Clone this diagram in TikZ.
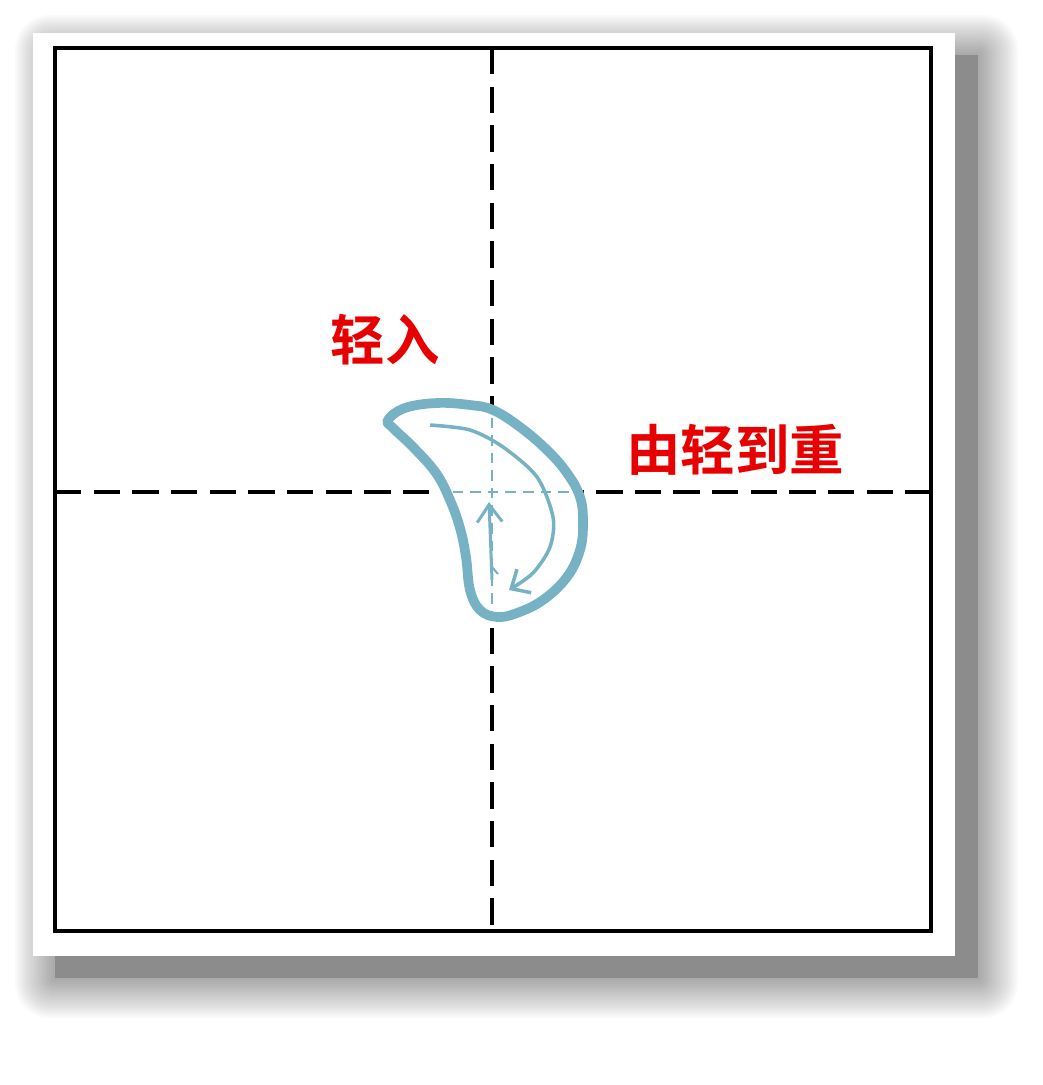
\documentclass[tikz,border=0pt]{standalone}
\usepackage{fontspec}
\usepackage{xcolor}
\usepackage{tikz}
\usetikzlibrary{arrows.meta}
\newfontfamily\cjk{Noto Sans CJK SC}[BoldFont={Noto Sans CJK SC Bold}]
\definecolor{brushteal}{RGB}{118,178,196}
\definecolor{shadowgray}{RGB}{140,140,140}
\definecolor{wordred}{RGB}{232,0,0}

\begin{document}
\begin{tikzpicture}[x=0.02cm,y=-0.02cm,
    guide/.style={line width=2pt,dash pattern=on 15pt off 7pt},
    fineguide/.style={brushteal,line width=0.8pt,dash pattern=on 6pt off 4pt},
    redword/.style={text=wordred,font=\cjk\bfseries\fontsize{31}{31}\selectfont}]
        \useasboundingbox (0,0) rectangle (1042,1085);
        \foreach \i in {1,...,20}
            \fill[black,opacity=0.018,rounded corners=\i pt] (55-2*\i,55-2*\i) rectangle (978+2*\i,978+2*\i);
        \fill[shadowgray] (55,55) rectangle (978,978);
        \fill[white] (33,33) rectangle (955,956);
        \draw[line width=2pt] (55,48) rectangle (931,931);
        \draw[guide] (55,492)--(931,492);
        \draw[guide] (492,48)--(492,931);

        \fill[white] plot[smooth cycle,tension=0.65] coordinates {(388,420) (405,408) (437,403) (470,405) (493,410) (520,427) (547,450) (567,473) (580,497) (583,523) (580,550) (567,577) (543,600) (517,613) (497,617) (480,610) (470,590) (466,557) (460,528) (450,500) (436,473) (413,447) (393,428)};
        \begin{scope}
            \clip plot[smooth cycle,tension=0.65] coordinates {(388,420) (405,408) (437,403) (470,405) (493,410) (520,427) (547,450) (567,473) (580,497) (583,523) (580,550) (567,577) (543,600) (517,613) (497,617) (480,610) (470,590) (466,557) (460,528) (450,500) (436,473) (413,447) (393,428)};
            \draw[fineguide] (400,492)--(600,492);
            \draw[fineguide] (492,400)--(492,620);
        \end{scope}
        \draw[brushteal,line width=5.5pt,line join=round] plot[smooth cycle,tension=0.65] coordinates {(388,420) (405,408) (437,403) (470,405) (493,410) (520,427) (547,450) (567,473) (580,497) (583,523) (580,550) (567,577) (543,600) (517,613) (497,617) (480,610) (470,590) (466,557) (460,528) (450,500) (436,473) (413,447) (393,428)};
        \draw[brushteal,line width=2pt,-{Straight Barb[length=0.3cm,width=0.55cm]}] plot[smooth] coordinates {(430,425) (470,430) (503,447) (537,477) (553,517) (550,547) (533,573) (509,590)};
        \draw[brushteal,line width=1.7pt,-{Straight Barb[length=0.35cm,width=0.5cm]}] (492,580)--(489,502);
        \draw[brushteal,line width=1.2pt] (491,566)--(498,574);

        \node[redword] (lightin) at (385,340) {轻入};
        \node[redword] (heavier) at (735,450) {由轻到重};
    \end{tikzpicture}
\end{document}
